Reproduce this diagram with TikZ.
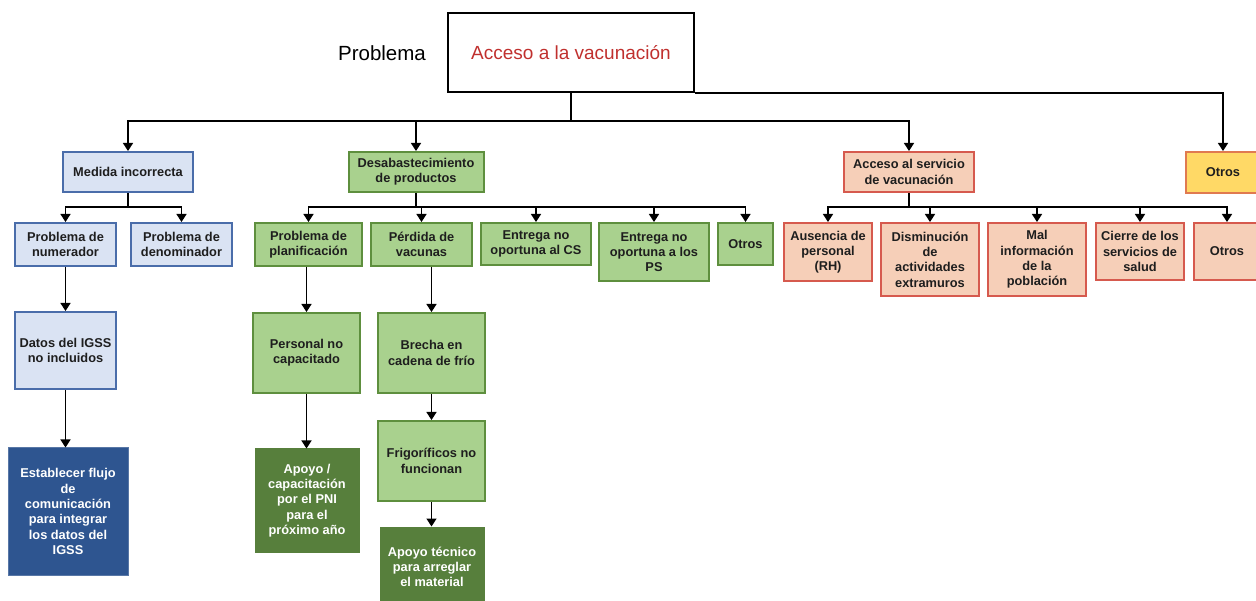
\documentclass[tikz,border=0pt]{standalone}
\usepackage{fontspec}
\setmainfont{Liberation Sans}
\usetikzlibrary{arrows.meta}
\definecolor{blueFill}{HTML}{DAE3F3}
\definecolor{blueLine}{HTML}{4A6DAA}
\definecolor{blueDark}{HTML}{2E5590}
\definecolor{greenFill}{HTML}{A9D18E}
\definecolor{greenLine}{HTML}{5E8F3E}
\definecolor{greenDark}{HTML}{577F3C}
\definecolor{pinkFill}{HTML}{F6CFB8}
\definecolor{pinkLine}{HTML}{D65A4E}
\definecolor{yellowFill}{HTML}{FFD966}
\definecolor{yellowLine}{HTML}{E07A50}
\definecolor{topRed}{HTML}{C0302E}
\definecolor{txt}{HTML}{1E1E1E}
\tikzset{
  box/.style={draw, line width=2pt, align=center, inner sep=2pt, text=txt,
    font=\bfseries\fontsize{12.8}{15.3}\selectfont},
  bluebox/.style={box, fill=blueFill, draw=blueLine},
  bluedark/.style={box, fill=blueDark, draw=blueDark!80!white, line width=1pt, text=white},
  greenbox/.style={box, fill=greenFill, draw=greenLine},
  greendark/.style={box, fill=greenDark, draw=greenDark, line width=1pt, text=white},
  pinkbox/.style={box, fill=pinkFill, draw=pinkLine},
  yellowbox/.style={box, fill=yellowFill, draw=yellowLine},
  link/.style={draw=black, line width=1.5pt},
  arr/.style={link, -{Triangle[length=8pt,width=10pt]}},
  sz/.style 2 args={minimum width=#1pt, minimum height=#2pt}
}
\begin{document}
\begin{tikzpicture}[x=1pt, y=-1pt]
\useasboundingbox (0,0) rectangle (1256,601);
% top
\node[draw, line width=2pt, sz={246}{79}, text=topRed, font=\fontsize{19}{22}\selectfont] (top) at (571,52.5) {Acceso a la vacunación};
\node[font=\fontsize{20.5}{24}\selectfont, text=black] (prob) at (382,53) {Problema};
% level 1
\node[bluebox, sz={130}{40}] (med) at (128,172) {Medida incorrecta};
\node[greenbox, sz={135}{40}] (des) at (416,172) {Desabastecimiento\\de productos};
\node[pinkbox, sz={130}{40}] (acc) at (909,172) {Acceso al servicio\\de vacunación};
\node[yellowbox, sz={74}{41}] (otY) at (1223,172.5) {Otros};
% level 2
\node[bluebox, sz={101}{43}] (num) at (65.5,244.5) {Problema de\\numerador};
\node[bluebox, sz={101}{43}] (den) at (181.5,244.5) {Problema de\\denominador};
\node[greenbox, sz={107}{43}] (pla) at (308.5,244.5) {Problema de\\planificación};
\node[greenbox, sz={101}{43}] (per) at (421.5,244.5) {Pérdida de\\vacunas};
\node[greenbox, sz={110}{42}] (cs) at (536,244) {Entrega no\\oportuna al CS};
\node[greenbox, sz={110}{58}] (ps) at (654,252) {Entrega no\\oportuna a los\\PS};
\node[greenbox, sz={55}{42}] (otG) at (745.5,244) {Otros};
\node[pinkbox, sz={88}{58}] (aus) at (828,252) {Ausencia de\\personal\\(RH)};
\node[pinkbox, sz={98}{73}] (dis) at (930,259.5) {Disminución\\de\\actividades\\extramuros};
\node[pinkbox, sz={98}{73}] (mal) at (1037,259.5) {Mal\\información\\de la\\población};
\node[pinkbox, sz={88}{57}] (cie) at (1140,251.5) {Cierre de los\\servicios de\\salud};
\node[pinkbox, sz={66}{57}] (otR) at (1227,251.5) {Otros};
% level 3+
\node[bluebox, sz={101}{77}] (dat) at (65.5,350.5) {Datos del IGSS\\no incluidos};
\node[bluedark, sz={120}{127}] (est) at (68,511.5) {Establecer flujo\\de\\comunicación\\para integrar\\los datos del\\IGSS};
\node[greenbox, sz={107}{80}] (pers) at (306.5,353) {Personal no\\capacitado};
\node[greendark, sz={104}{103}] (apo) at (307,500.5) {Apoyo /\\capacitación\\por el PNI\\para el\\próximo año};
\node[greenbox, sz={107}{80}] (bre) at (431.5,353) {Brecha en\\cadena de frío};
\node[greenbox, sz={107}{80}] (fri) at (431.5,461) {Frigoríficos no\\funcionan};
\node[greendark, sz={104}{80}] (tec) at (432,567) {Apoyo técnico\\para arreglar\\el material};
% bars
\coordinate (topbar) at (571,121);
\coordinate (medbar) at (128,207);
\coordinate (desbar) at (416,207);
\coordinate (accbar) at (909,207);
% connectors
\draw[link] (top.south) -- (topbar);
\draw[arr] (topbar) -| (med.north);
\draw[arr] (topbar) -| (des.north);
\draw[arr] (topbar) -| (acc.north);
\draw[arr] (top.south east) -| (otY.north);
\draw[link] (med.south) -- (medbar);
\draw[arr] (medbar) -| (num.north);
\draw[arr] (medbar) -| (den.north);
\draw[link] (des.south) -- (desbar);
\foreach \n in {pla,per,cs,ps,otG} \draw[arr] (desbar) -| (\n.north);
\draw[link] (acc.south) -- (accbar);
\foreach \n in {aus,dis,mal,cie,otR} \draw[arr] (accbar) -| (\n.north);
\draw[arr] (num.south) -- (dat.north);
\draw[arr] (dat.south) -- (dat.south |- est.north);
\draw[arr] (pers.north |- pla.south) -- (pers.north);
\draw[arr] (pers.south) -- (pers.south |- apo.north);
\draw[arr] (bre.north |- per.south) -- (bre.north);
\draw[arr] (bre.south) -- (fri.north);
\draw[arr] (fri.south) -- (fri.south |- tec.north);
\end{tikzpicture}
\end{document}
